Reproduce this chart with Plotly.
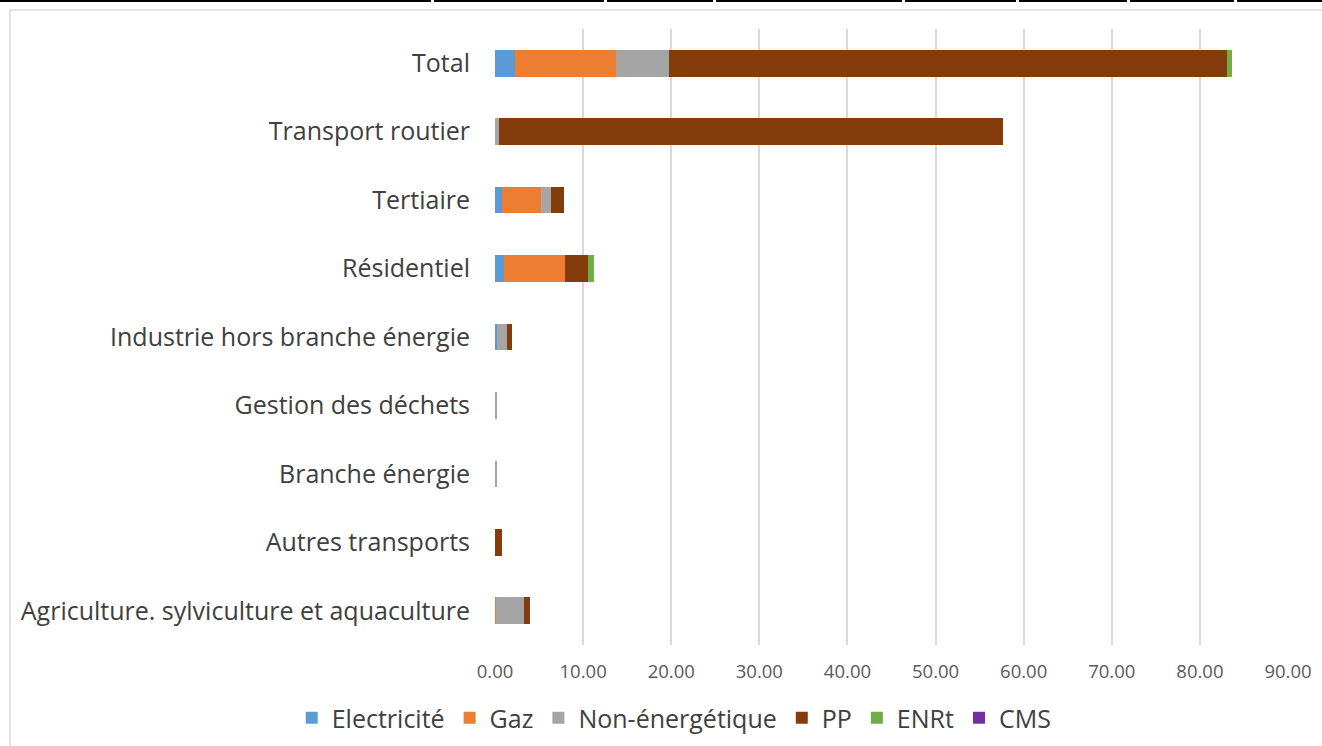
import plotly.graph_objects as go

categories = ["Total", "Transport routier", "Tertiaire", "Résidentiel",
              "Industrie hors branche énergie", "Gestion des déchets",
              "Branche énergie", "Autres transports",
              "Agriculture. sylviculture et aquaculture"]

electricite = [2.3, 0.0, 0.85, 1.0, 0.26, 0.0, 0.0, 0.0, 0.0]
gaz = [11.4, 0.0, 4.35, 6.9, 0.0, 0.0, 0.0, 0.0, 0.1]
non_energetique = [6.1, 0.4, 1.2, 0.0, 1.14, 0.2, 0.2, 0.0, 3.2]
pp = [63.3, 57.2, 1.45, 2.7, 0.57, 0.0, 0.0, 0.8, 0.7]
enrt = [0.6, 0.0, 0.0, 0.6, 0.0, 0.0, 0.0, 0.0, 0.0]
cms = [0.0, 0.0, 0.0, 0.0, 0.0, 0.0, 0.0, 0.0, 0.0]

series = [
    ("Electricité", electricite, "#5B9BD5"),
    ("Gaz", gaz, "#ED7D31"),
    ("Non-énergétique", non_energetique, "#A5A5A5"),
    ("PP", pp, "#843C0C"),
    ("ENRt", enrt, "#70AD47"),
    ("CMS", cms, "#7030A0"),
]

FONT = "'Open Sans', 'Noto Sans', sans-serif"

fig = go.Figure()
for name, vals, color in series:
    fig.add_trace(go.Bar(
        y=categories, x=vals, name=name, orientation="h",
        marker=dict(color=color, line=dict(width=0)),
    ))

W, H = 1322, 746
L, R, T, B = 495, 34, 29, 101
pw, ph = W - L - R, H - T - B

def px(x):
    return (x - L) / pw

def py(y):
    return (H - B - y) / ph

shapes = []
# chart-area border (light gray)
shapes.append(dict(type="rect", xref="paper", yref="paper",
                   x0=px(10), x1=px(1330), y0=py(10), y1=py(760),
                   line=dict(color="#d9d9d9", width=1.5), layer="below"))
# top black rule with small gaps
segs = [(0, 431), (434, 604), (607, 713), (716, 902), (905, 1016),
        (1019, 1127), (1130, 1234), (1237, 1322)]
for a, b in segs:
    shapes.append(dict(type="line", xref="paper", yref="paper",
                       x0=px(a), x1=px(b), y0=py(1), y1=py(1),
                       line=dict(color="black", width=2)))

fig.update_layout(
    barmode="stack",
    bargap=0.61,
    width=W, height=H,
    margin=dict(l=L, r=R, t=T, b=B, autoexpand=False),
    paper_bgcolor="white", plot_bgcolor="white",
    font=dict(family=FONT, color="#404040"),
    shapes=shapes,
    legend=dict(orientation="h", x=0.51, xanchor="center", xref="container",
                y=py(718), yanchor="middle",
                font=dict(size=25, color="#404040"),
                itemwidth=30, traceorder="normal"),
    xaxis=dict(range=[0, 90], dtick=10, tickformat=".2f",
               showgrid=True, gridcolor="#d9d9d9", gridwidth=1.5,
               zeroline=False, showline=False,
               tickfont=dict(size=18.5, color="#595959"),
               ticks="", ticklabelstandoff=13),
    yaxis=dict(autorange="reversed", showgrid=False, zeroline=False,
               showline=False, ticks="",
               tickfont=dict(size=25, color="#404040"),
               ticklabelstandoff=24),
)

fig.write_html("out.html")
